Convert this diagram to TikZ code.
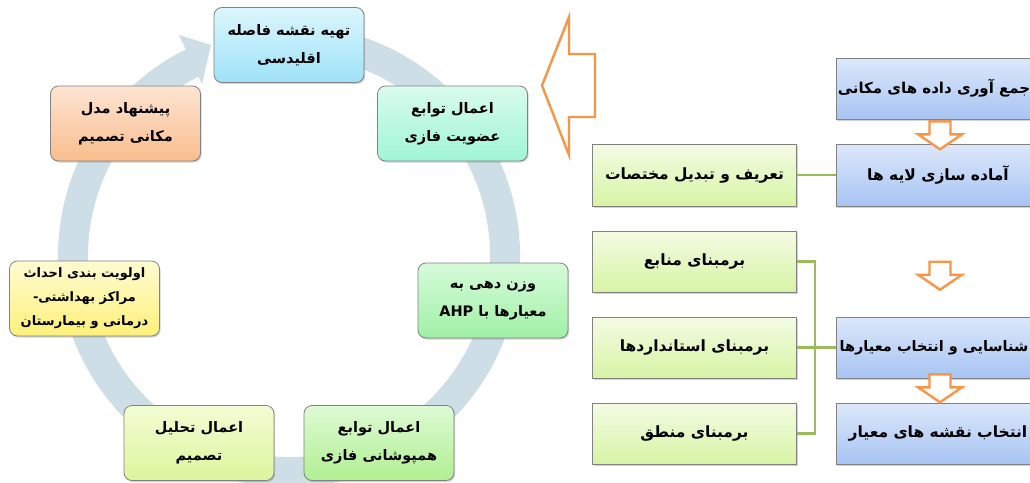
\documentclass[tikz,border=0pt]{standalone}
\usepackage{fontspec}
\usetikzlibrary{shadows,calc}
\newfontfamily\pfont[Script=Arabic]{DejaVu Sans}
\TeXXeTstate=1
\definecolor{ringc}{RGB}{206,222,231}
\definecolor{orng}{RGB}{247,150,70}
\definecolor{lnk}{RGB}{155,187,89}
\definecolor{bordc}{RGB}{130,130,130}
\definecolor{c1t}{RGB}{220,246,253}\definecolor{c1b}{RGB}{158,226,248}
\definecolor{c2t}{RGB}{216,252,236}\definecolor{c2b}{RGB}{160,245,214}
\definecolor{c3t}{RGB}{214,251,218}\definecolor{c3b}{RGB}{160,240,166}
\definecolor{c4t}{RGB}{222,250,212}\definecolor{c4b}{RGB}{176,240,146}
\definecolor{c5t}{RGB}{243,252,212}\definecolor{c5b}{RGB}{220,245,156}
\definecolor{c6t}{RGB}{255,251,210}\definecolor{c6b}{RGB}{253,240,122}
\definecolor{c7t}{RGB}{253,228,210}\definecolor{c7b}{RGB}{249,189,141}
\definecolor{blt}{RGB}{220,232,251}\definecolor{blb}{RGB}{167,196,243}
\definecolor{grt}{RGB}{244,251,228}\definecolor{grb}{RGB}{215,244,164}
\tikzset{
  cyc/.style={rounded corners=8pt, draw=bordc, line width=0.8pt,
    minimum width=150pt, minimum height=75pt, inner sep=2pt, align=center,
    font=\pfont\bfseries\fontsize{14.5}{28}\selectfont,
    drop shadow={shadow xshift=1.2pt, shadow yshift=-1.5pt, opacity=0.35}},
  rbox/.style={draw=bordc, line width=0.6pt, minimum width=204pt,
    minimum height=61pt, inner sep=2pt, align=center,
    font=\pfont\bfseries\fontsize{15.5}{18}\selectfont,
    drop shadow={shadow xshift=1.2pt, shadow yshift=-1.5pt, opacity=0.35}},
  bluebox/.style={rbox, top color=blt, bottom color=blb},
  greenbox/.style={rbox, top color=grt, bottom color=grb},
  link/.style={draw=lnk, line width=2.6pt},
  dnarrow/.pic={\draw[orng, line width=2.4pt, fill=white, line join=miter]
    (-10.5,0) -- (10.5,0) -- (10.5,13) -- (22,13) -- (0,28) -- (-22,13) -- (-10.5,13) -- cycle;}
}
\begin{document}
\begin{tikzpicture}[x=1pt,y=-1pt]
\useasboundingbox (0,0) rectangle (1030,482);
\clip (0,0) rectangle (1030,482);
\fill[white] (0,0) rectangle (1030,482);
% ring
\draw[ringc, line width=30pt] (289,256) ++(-80:216) arc[start angle=-80, end angle=243.5, radius=216];
\fill[ringc] (179,35) -- (211,45) -- (202,84) -- cycle;
% cycle boxes
\node[cyc, top color=c1t, bottom color=c1b] (c1) at (289,45)
  {\beginR تهیه نقشه فاصله\endR\\\beginR اقلیدسی\endR};
\node[cyc, top color=c2t, bottom color=c2b] (c2) at (452.5,123.5)
  {\beginR اعمال توابع\endR\\\beginR عضویت فازی\endR};
\node[cyc, top color=c3t, bottom color=c3b] (c3) at (493,300.5)
  {\beginR وزن دهی به\endR\\\beginR معیارها با \beginL AHP\endL\endR};
\node[cyc, top color=c4t, bottom color=c4b] (c4) at (379,443)
  {\beginR اعمال توابع\endR\\\beginR همپوشانی فازی\endR};
\node[cyc, top color=c5t, bottom color=c5b] (c5) at (199,443)
  {\beginR اعمال تحلیل\endR\\\beginR تصمیم\endR};
\node[cyc, top color=c6t, bottom color=c6b, font=\pfont\bfseries\fontsize{13}{24}\selectfont] (c6) at (84.5,298.5)
  {\beginR اولویت بندی احداث\endR\\\beginR مراکز بهداشتی-\endR\\\beginR درمانی و بیمارستان\endR};
\node[cyc, top color=c7t, bottom color=c7b] (c7) at (125.5,123.5)
  {\beginR پیشنهاد مدل\endR\\\beginR مکانی تصمیم\endR};
% big left arrow
\draw[orng, line width=2.4pt, fill=white, line join=miter]
  (595,54) -- (569,54) -- (569,17) -- (542,85.5) -- (569,155) -- (569,117) -- (595,117) -- cycle;
% right side boxes
\node[bluebox, inner xsep=0pt, font=\pfont\bfseries\fontsize{15}{18}\selectfont] (b1) at (938,88.5) {\beginR جمع آوری داده های مکانی\endR\hspace*{8pt}};
\node[bluebox, minimum height=62pt] (b2) at (938,175) {\beginR آماده سازی لایه ها\endR};
\node[bluebox, inner xsep=0pt, font=\pfont\bfseries\fontsize{14.5}{18}\selectfont] (b3) at (938,347.5) {\beginR شناسایی و انتخاب معیارها\endR\hspace*{8pt}};
\node[bluebox] (b4) at (938,433.5) {\beginR انتخاب نقشه های معیار\endR};
\node[greenbox, minimum height=62pt] (g0) at (694.5,175) {\beginR تعریف و تبدیل مختصات\endR};
\node[greenbox] (g1) at (694.5,261.5) {\beginR برمبنای منابع\endR};
\node[greenbox] (g2) at (694.5,347.5) {\beginR برمبنای استانداردها\endR};
\node[greenbox] (g3) at (694.5,433.5) {\beginR برمبنای منطق\endR};
% connectors
\coordinate (jn) at (815,347.5);
\draw[link] (g0.east) -- (b2.west);
\draw[link] (g1.east) -| (jn) |- (g3.east);
\draw[link] (g2.east) -- (b3.west);
% small orange arrows
\pic at ($(b1.south)+(2,2)$) {dnarrow};
\pic at ($(b3.north)+(2,-55)$) {dnarrow};
\pic at ($(b3.south)+(2,-4)$) {dnarrow};
\end{tikzpicture}
\end{document}
